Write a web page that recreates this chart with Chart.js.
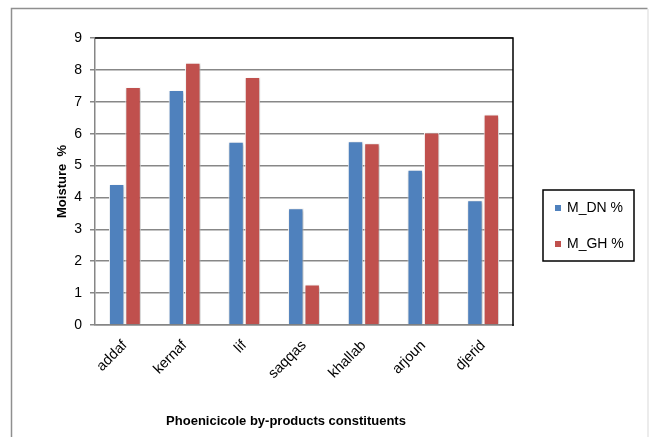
<!DOCTYPE html>
<html>
<head>
<meta charset="utf-8">
<script src="https://cdn.jsdelivr.net/npm/chart.js@4"></script>
<style>
  html, body { margin: 0; padding: 0; background: #fff; }
  #wrap { width: 649px; height: 437px; }
</style>
</head>
<body>
<div id="wrap"><canvas id="myChart" width="649" height="437"></canvas></div>
<script>
// data
const categories = ["addaf", "kernaf", "lif", "saqqas", "khallab", "arjoun", "djerid"];
const mDN = [4.42, 7.37, 5.75, 3.66, 5.76, 4.87, 3.91];
const mGH = [7.46, 8.22, 7.78, 1.27, 5.70, 6.04, 6.60];
const seriesNames = ["M_DN %", "M_GH %"];
const yTicks = [0, 1, 2, 3, 4, 5, 6, 7, 8, 9];

const blue = "#4F81BD";
const red = "#C0504D";
const font = "'Liberation Sans', Arial, sans-serif";

// outer frame, plot border, axis titles and the boxed legend
const decor = {
  id: "decor",
  beforeDraw(chart) {
    const c = chart.ctx;
    c.save();
    c.fillStyle = "#fff";
    c.fillRect(0, 0, chart.width, chart.height);
    c.strokeStyle = "#8f8f8f";
    c.lineWidth = 1.5;
    c.beginPath();
    c.moveTo(11.5, 437);
    c.lineTo(11.5, 8.5);
    c.lineTo(647.5, 8.5);
    c.stroke();
    c.strokeStyle = "#d9d9d9";
    c.lineWidth = 1;
    c.beginPath();
    c.moveTo(648, 9);
    c.lineTo(648, 437);
    c.stroke();
    c.restore();
  },
  beforeDatasetsDraw(chart) {
    const c = chart.ctx;
    c.save();
    c.shadowColor = "rgba(0,0,0,0.28)";
    c.shadowBlur = 3;
    c.shadowOffsetX = 1;
    c.shadowOffsetY = 1;
  },
  afterDatasetsDraw(chart) {
    chart.ctx.restore();
  },
  afterDraw(chart) {
    const c = chart.ctx;
    const a = chart.chartArea;
    c.save();
    // top and right border of plot
    c.strokeStyle = "#000";
    c.lineWidth = 1.5;
    c.beginPath();
    c.moveTo(a.left, a.top);
    c.lineTo(a.right, a.top);
    c.lineTo(a.right, a.bottom + 1);
    c.stroke();

    // axis titles
    c.fillStyle = "#000";
    c.font = "bold 13px " + font;
    c.textAlign = "center";
    c.textBaseline = "middle";
    c.fillText("Phoenicicole by-products constituents", 286, 421);
    c.translate(62, (a.top + a.bottom) / 2);
    c.rotate(-Math.PI / 2);
    c.fillText("Moisture  %", 0, 0);
    c.restore();

    // legend
    c.save();
    c.strokeStyle = "#000";
    c.lineWidth = 1.5;
    c.strokeRect(543, 190, 91, 71);
    const cols = [blue, red];
    const ys = [208, 244];
    c.font = "14px " + font;
    c.textAlign = "left";
    c.textBaseline = "middle";
    chart.data.datasets.forEach((ds, i) => {
      c.fillStyle = cols[i];
      c.fillRect(555, ys[i] - 3, 6, 6);
      c.fillStyle = "#000";
      c.fillText(ds.label, 567, ys[i]);
    });
    c.restore();
  }
};

const ctx = document.getElementById("myChart").getContext("2d");
const myChart = new Chart(ctx, {
  type: "bar",
  data: {
    labels: categories,
    datasets: [
      { label: seriesNames[0], data: mDN, backgroundColor: blue, borderColor: "#fff", borderWidth: 1 },
      { label: seriesNames[1], data: mGH, backgroundColor: red, borderColor: "#fff", borderWidth: 1 }
    ]
  },
  options: {
    responsive: false,
    animation: false,
    categoryPercentage: 0.55,
    barPercentage: 0.94,
    layout: { padding: { left: 0, right: 136, top: 38, bottom: 0 } },
    plugins: {
      legend: { display: false },
      tooltip: { enabled: false }
    },
    scales: {
      x: {
        grid: { display: false, drawTicks: false },
        border: { color: "#868686", width: 1.5 },
        ticks: {
          color: "#000",
          font: { family: font, size: 14.5 },
          minRotation: 45,
          maxRotation: 45,
          padding: 12
        },
        afterFit(scale) { scale.height = 112; }
      },
      y: {
        min: 0,
        max: 9,
        afterBuildTicks(scale) { scale.ticks = yTicks.map(v => ({ value: v })); },
        grid: { color: "#878787", lineWidth: 1.5, tickLength: 5 },
        border: { color: "#868686", width: 1.5 },
        ticks: {
          color: "#000",
          font: { family: font, size: 14 },
          padding: 8
        },
        afterFit(scale) { scale.width = 95; }
      }
    }
  },
  plugins: [decor]
});
</script>
</body>
</html>
